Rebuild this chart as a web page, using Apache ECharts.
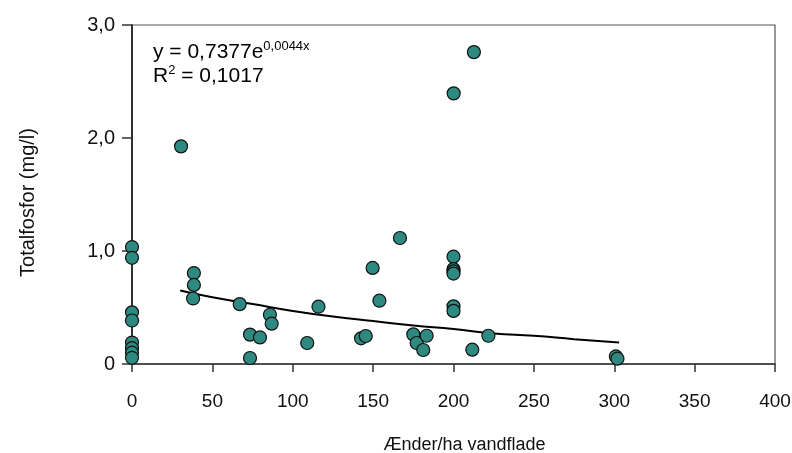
<!DOCTYPE html>
<html>
<head>
<meta charset="utf-8">
<script src="https://cdn.jsdelivr.net/npm/echarts@6/dist/echarts.min.js"></script>
<style>html,body{margin:0;padding:0;background:#fff}#c{width:792px;height:453px}</style>
</head>
<body>
<div id="c"></div>
<script>
// Data
var ducksX = [0,0,0,0,0,0,0,0,
  30.5,38.5,38.5,38,67,73.4,73.4,79.6,85.8,86.9,109,116,
  142.5,145.4,149.7,153.9,166.7,175,177.1,181.2,183.3,
  200,200,200,200,200,200,200.1,211.7,212.7,221.7,301,302];
var phosY = [1.035,0.94,0.457,0.385,0.19,0.14,0.10,0.055,
  1.926,0.805,0.70,0.58,0.53,0.26,0.053,0.235,0.436,0.357,0.186,0.507,
  0.227,0.248,0.85,0.56,1.115,0.262,0.186,0.124,0.25,
  0.95,0.84,0.82,0.80,0.51,0.47,2.395,0.127,2.76,0.25,0.067,0.047];
var trendX = [30,50,75,100,125,150,175,200,225,250,275,303];
var trendY = [0.65,0.59,0.53,0.47,0.42,0.38,0.34,0.31,0.27,0.25,0.22,0.19];
var xTicks = [0,50,100,150,200,250,300,350,400];
var yTicks = ['0','1,0','2,0','3,0'];
var xName = 'Ænder/ha vandflade';
var yName = 'Totalfosfor (mg/l)';

var points = ducksX.map(function(x,i){return [x, phosY[i]];});
var trend = trendX.map(function(x,i){return [x, trendY[i]];});

var chart = echarts.init(document.getElementById('c'));
var font = 'Liberation Sans, Arial, Helvetica, sans-serif';
chart.setOption({
  animation: false,
  backgroundColor: '#fff',
  grid: {left: 132, right: 17, top: 25, bottom: 89, containLabel: false, outerBoundsMode: 'none',
    show: true, borderColor: '#555', borderWidth: 1.2, backgroundColor: 'transparent'},
  xAxis: {
    type: 'value', min: 0, max: 400, interval: 50,
    name: xName, nameLocation: 'middle', nameGap: 72,
    nameTextStyle: {fontFamily: font, fontSize: 18, color: '#111', padding: [0,0,0,22]},
    axisLine: {show: true, lineStyle: {color: '#333', width: 1.5}},
    axisTick: {show: true, inside: false, length: 8, lineStyle: {color: '#333', width: 1.5}},
    axisLabel: {fontFamily: font, fontSize: 19, color: '#111', margin: 28,
      formatter: function(v){return xTicks.indexOf(v) >= 0 ? String(v) : '';}},
    splitLine: {show: false}
  },
  yAxis: {
    type: 'value', min: 0, max: 3, interval: 1,
    name: yName, nameLocation: 'middle', nameGap: 94, nameRotate: 90,
    nameTextStyle: {fontFamily: font, fontSize: 20, color: '#111', padding: [0,16,0,0]},
    axisLine: {show: true, lineStyle: {color: '#111', width: 1.5}},
    axisTick: {show: true, inside: false, length: 10, lineStyle: {color: '#333', width: 1.5}},
    axisLabel: {fontFamily: font, fontSize: 20, color: '#111', margin: 17,
      formatter: function(v){return yTicks[Math.round(v)];}},
    splitLine: {show: false}
  },
  graphic: [{
    type: 'text', left: 153, top: 40, z: 10,
    style: {
      text: '{b|y = 0,7377e}{s|0,0044x}\n{b|R}{s|2}{b| = 0,1017}',
      rich: {
        b: {fontFamily: font, fontSize: 21, color: '#111', lineHeight: 24},
        s: {fontFamily: font, fontSize: 13, color: '#111', lineHeight: 13, verticalAlign: 'top'}
      }
    }
  }],
  series: [{
    type: 'line', data: trend, showSymbol: false, symbol: 'none', smooth: true,
    lineStyle: {color: '#000', width: 2}, z: 2
  }, {
    type: 'scatter', data: points, symbol: 'circle', symbolSize: 13,
    itemStyle: {color: '#2e8a80', borderColor: '#111', borderWidth: 1.2, opacity: 1}, z: 3
  }]
});
</script>
</body>
</html>
